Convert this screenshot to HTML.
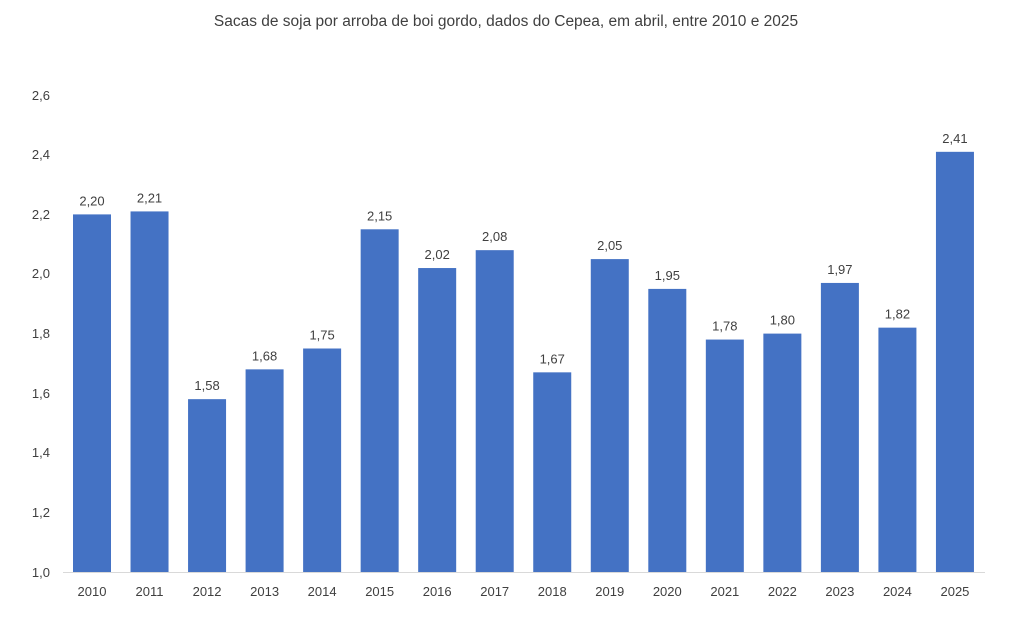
<!DOCTYPE html>
<html><head><meta charset="utf-8"><style>
body{margin:0;background:#fff;}
svg text{font-family:"Liberation Sans",sans-serif;fill:#404040;}
</style></head><body>
<svg width="1012" height="629" xmlns="http://www.w3.org/2000/svg">
<rect width="1012" height="629" fill="#fff"/>
<text x="506" y="26" font-size="15.5" text-anchor="middle" fill="#595959">Sacas de soja por arroba de boi gordo, dados do Cepea, em abril, entre 2010 e 2025</text>
<g font-size="13" text-anchor="end">
<text x="50" y="577">1,0</text><text x="50" y="517">1,2</text><text x="50" y="457">1,4</text><text x="50" y="398">1,6</text><text x="50" y="338">1,8</text><text x="50" y="278">2,0</text><text x="50" y="219">2,2</text><text x="50" y="159">2,4</text><text x="50" y="100">2,6</text>
</g>
<line x1="63" y1="572.5" x2="985" y2="572.5" stroke="#d9d9d9" stroke-width="1"/>
<g id="bars"></g>
</svg>
<script>
var v=[2.20,2.21,1.58,1.68,1.75,2.15,2.02,2.08,1.67,2.05,1.95,1.78,1.80,1.97,1.82,2.41];
var g=document.getElementById('bars'),ns="http://www.w3.org/2000/svg";
v.forEach(function(d,i){
 var cx=92+i*57.53,top=572-(d-1)*298;
 var r=document.createElementNS(ns,'rect');
 r.setAttribute('x',cx-19);r.setAttribute('y',top);r.setAttribute('width',38);r.setAttribute('height',572-top);r.setAttribute('fill','#4472c4');g.appendChild(r);
 var t=document.createElementNS(ns,'text');
 t.setAttribute('x',cx);t.setAttribute('y',top-9);t.setAttribute('font-size','13');t.setAttribute('text-anchor','middle');
 t.textContent=d.toFixed(2).replace('.',',');g.appendChild(t);
 var l=document.createElementNS(ns,'text');
 l.setAttribute('x',cx);l.setAttribute('y',596);l.setAttribute('font-size','13');l.setAttribute('text-anchor','middle');
 l.textContent=2010+i;g.appendChild(l);
});
</script>
</body></html>
